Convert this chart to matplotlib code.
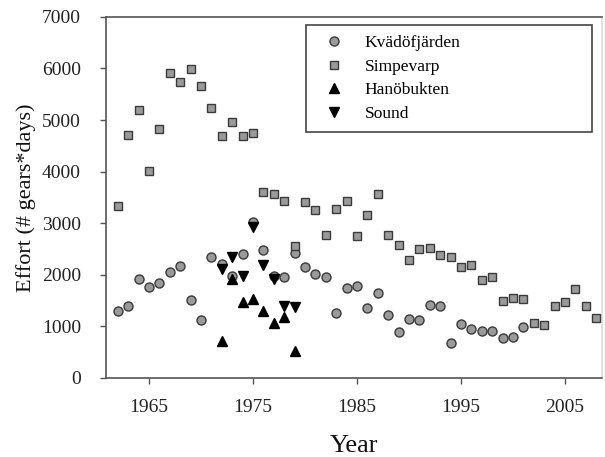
import matplotlib
matplotlib.use("Agg")
import matplotlib.pyplot as plt

plt.rcParams['font.family'] = ['Liberation Serif', 'DejaVu Serif']

# Kvädöfjärden
kv_years = list(range(1962, 2002))
kv_effort = [1298, 1401, 1924, 1770, 1841, 2048, 2171, 1505, 1124, 2351,
             2216, 1977, 2410, 3030, 2481, 1977, 1964, 2416, 2145, 2022,
             1957, 1260, 1738, 1783, 1363, 1654, 1227, 891, 1143, 1124,
             1415, 1395, 678, 1053, 956, 905, 905, 781, 800, 988]

# Simpevarp
si_years = list(range(1962, 2009))
si_effort = [3339, 4709, 5188, 4006, 4831, 5911, 5742, 5994, 5653, 5226,
             4696, 4955, 4684, 4754, 3598, 3565, 3436, 2558, 3404, 3262,
             2771, 3268, 3436, 2758, 3159, 3566, 2771, 2584, 2287, 2506,
             2526, 2384, 2351, 2151, 2196, 1893, 1957, 1486, 1556, 1531,
             1060, 1033, 1401, 1473, 1725, 1401, 1157]

# Hanöbukten
ha_years = list(range(1972, 1980))
ha_effort = [711, 1913, 1467, 1537, 1292, 1072, 1188, 523]

# Sound
so_years = list(range(1972, 1980))
so_effort = [2112, 2339, 1977, 2920, 2196, 1924, 1401, 1382]

fig = plt.figure(figsize=(6.05, 4.57), dpi=100)
ax = fig.add_axes([0.175, 0.173, 0.82, 0.79])

grey = '#9a9a9a'
edge = '#3a3a3a'
ax.plot(kv_years, kv_effort, 'o', ms=6.5, mfc=grey, mec=edge, mew=1.0,
        label='Kvädöfjärden', zorder=3)
ax.plot(si_years, si_effort, 's', ms=6, mfc=grey, mec=edge, mew=1.0,
        label='Simpevarp', zorder=3)
ax.plot(ha_years, ha_effort, '^', ms=7, color='black', mec='black',
        label='Hanöbukten', zorder=4)
ax.plot(so_years, so_effort, 'v', ms=7, color='black', mec='black',
        label='Sound', zorder=4)

ax.set_xlim(1960.85, 2008.55)
ax.set_ylim(0, 7000)
ax.set_xticks([1965, 1975, 1985, 1995, 2005])
ax.set_yticks(range(0, 7001, 1000))

for s in ax.spines.values():
    s.set_color('#555555')
    s.set_linewidth(1.2)
ax.spines['right'].set_color('#dddddd')

ax.tick_params(axis='both', direction='out', length=4, width=1.0,
               color='#555555', labelsize=14, labelcolor='#222222')
ax.tick_params(axis='y', pad=14)
ax.tick_params(axis='x', pad=11)

ax.set_xlabel('Year', fontsize=19, color='#111111', labelpad=14)
ax.set_ylabel('Effort (# gears*days)', fontsize=16, color='#111111',
              labelpad=4)

leg = ax.legend(loc='upper left', bbox_to_anchor=(0.403, 0.685, 0.576, 0.293),
                mode='expand', fancybox=False, edgecolor='#444444',
                fontsize=12.5, borderpad=0.6, handlelength=2.0,
                handletextpad=0.8, labelspacing=0.42, framealpha=1,
                borderaxespad=0)
leg.get_frame().set_linewidth(1.2)

fig.savefig('out.png', dpi=100)
